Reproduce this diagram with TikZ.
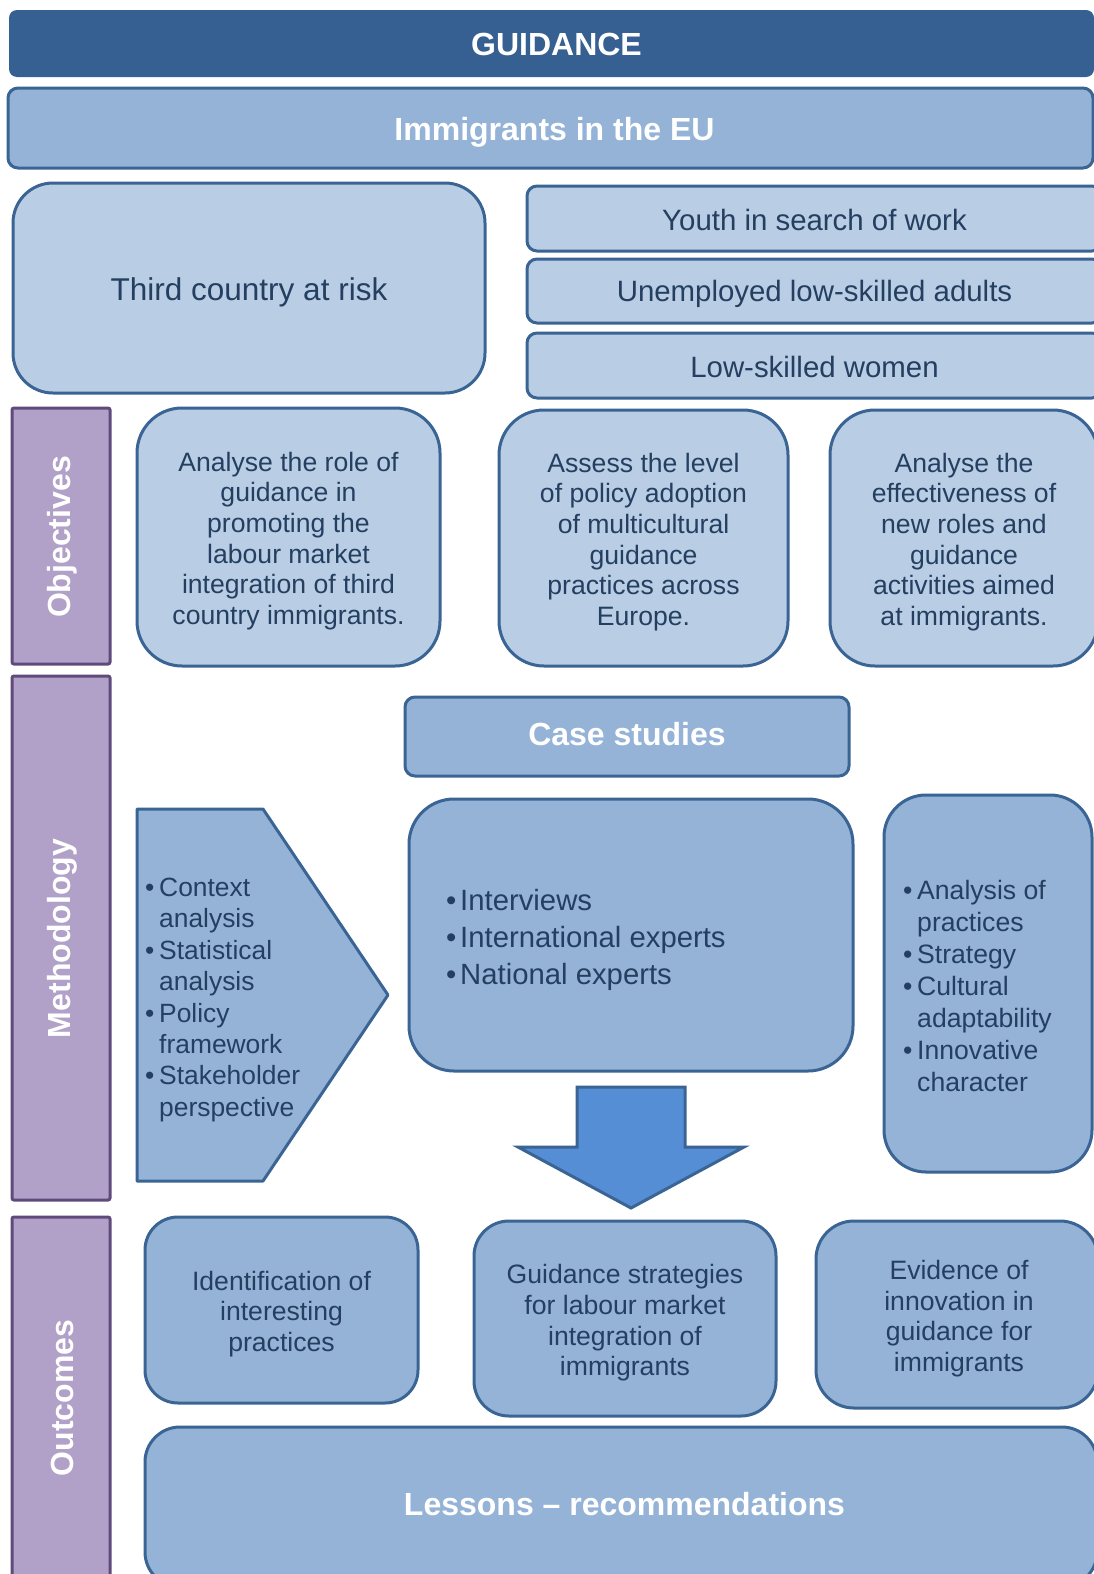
\documentclass[tikz,border=0pt]{standalone}
\usepackage{fontspec}
\setmainfont{Liberation Sans}
\definecolor{darkbar}{HTML}{366092}
\definecolor{lightfill}{HTML}{B9CDE5}
\definecolor{midfill}{HTML}{95B3D7}
\definecolor{bordc}{HTML}{3A6494}
\definecolor{txtc}{HTML}{243F60}
\definecolor{purfill}{HTML}{B1A0C7}
\definecolor{purbord}{HTML}{604A7B}
\definecolor{arrfill}{HTML}{558ED5}
\newcommand\mybul{\makebox[14pt][l]{•}}
\newcommand\myind{\hspace*{14pt}}
\tikzset{
  bx/.style={draw=bordc, line width=3pt, rounded corners=#1, inner sep=0pt},
  lightbx/.style={bx=#1, fill=lightfill},
  midbx/.style={bx=#1, fill=midfill},
  bodytxt/.style={text=txtc, align=center, inner sep=0pt, font=\fontsize{26.6}{30.6}\selectfont},
  grouptxt/.style={text=txtc, align=center, inner sep=0pt, font=\fontsize{29.4}{34}\selectfont},
  titletxt/.style={text=white, inner sep=0pt, font=\bfseries\fontsize{32}{38}\selectfont},
  sidebar/.style={draw=purbord, line width=3pt, fill=purfill, rounded corners=2pt, inner sep=0pt},
  sidelabel/.style={text=white, font=\bfseries\fontsize{32}{38}\selectfont, rotate=90, inner sep=0pt},
  bullist/.style={text=txtc, align=left, inner sep=0pt, anchor=west},
}
\begin{document}
\begin{tikzpicture}[x=1pt,y=-1pt]
\useasboundingbox (0,0) rectangle (1094,1574);
\clip (0,0) rectangle (1094,1574);
\fill[white] (0,0) rectangle (1094,1574);

% top bars
\node[fill=darkbar, rounded corners=8pt, minimum width=1085pt, minimum height=67pt, inner sep=0pt] (guid) at (551.5,43.5) {};
\node[titletxt] (guidt) at (556.5,44.5) {GUIDANCE};
\node[midbx=10pt, minimum width=1085pt, minimum height=80pt] (immig) at (550.5,128) {};
\node[titletxt] (immigt) at (554.5,132) {Immigrants in the EU};

% target groups
\node[lightbx=40pt, minimum width=472pt, minimum height=210pt] (third) at (249,288) {};
\node[bodytxt, font=\fontsize{31.5}{36}\selectfont] (thirdt) at (249,292) {Third country at risk};
\node[lightbx=10pt, minimum width=575pt, minimum height=65pt] (youth) at (814.5,218.5) {};
\node[grouptxt] (youtht) at (814.5,220) {Youth in search of work};
\node[lightbx=10pt, minimum width=575pt, minimum height=64pt] (unemp) at (814.5,291) {};
\node[grouptxt] (unempt) at (814.5,294) {Unemployed low-skilled adults};
\node[lightbx=10pt, minimum width=575pt, minimum height=65pt] (women) at (814.5,365.5) {};
\node[grouptxt] (woment) at (814.5,367) {Low-skilled women};

% side bars
\node[sidebar, minimum width=98pt, minimum height=256pt] (objbar) at (61,536) {};
\node[sidelabel] (objlab) at (62,537) {Objectives};
\node[sidebar, minimum width=98pt, minimum height=524pt] (metbar) at (61,938) {};
\node[sidelabel] (metlab) at (62,938.5) {Methodology};
\node[sidebar, minimum width=98pt, minimum height=370pt] (outbar) at (61,1402) {};
\node[sidelabel] (outlab) at (62,1398) {Outcomes};

% objectives
\node[lightbx=45pt, minimum width=303pt, minimum height=258pt] (obj1) at (288.5,537) {};
\node[bodytxt] (obj1t) at (288.5,541) {Analyse the role of\\guidance in\\promoting the\\labour market\\integration of third\\country immigrants.};
\node[lightbx=45pt, minimum width=289pt, minimum height=256pt] (obj2) at (643.5,538) {};
\node[bodytxt] (obj2t) at (643.5,542) {Assess the level\\of policy adoption\\of multicultural\\guidance\\practices across\\Europe.};
\node[lightbx=45pt, minimum width=268pt, minimum height=256pt] (obj3) at (964,538) {};
\node[bodytxt] (obj3t) at (964,542) {Analyse the\\effectiveness of\\new roles and\\guidance\\activities aimed\\at immigrants.};

% methodology
\node[midbx=10pt, minimum width=444pt, minimum height=79pt] (case) at (627,736.5) {};
\node[titletxt] (caset) at (627,734.5) {Case studies};
\draw[line width=3pt, draw=bordc, fill=midfill, line join=round] (137,809) -- (263,809) -- (388,995) -- (263,1181) -- (137,1181) -- cycle;
\node[bullist, font=\fontsize{26.4}{31.4}\selectfont] (penttxt) at (145,1000) {\mybul Context\\\myind analysis\\\mybul Statistical\\\myind analysis\\\mybul Policy\\\myind framework\\\mybul Stakeholder\\\myind perspective};
\node[midbx=45pt, minimum width=444pt, minimum height=272pt] (mid) at (631,935) {};
\node[bullist, font=\fontsize{29.3}{36.6}\selectfont] (midtxt) at (446,940) {\mybul Interviews\\\mybul International experts\\\mybul National experts};
\node[midbx=42pt, minimum width=208pt, minimum height=377pt] (right) at (988,983.5) {};
\node[bullist, font=\fontsize{26.6}{31.9}\selectfont] (righttxt) at (903,986) {\mybul Analysis of\\\myind practices\\\mybul Strategy\\\mybul Cultural\\\myind adaptability\\\mybul Innovative\\\myind character};

% arrow
\draw[line width=3pt, draw=bordc, fill=arrfill, line join=miter] (577,1087) -- (685,1087) -- (685,1147) -- (744,1147) -- (631,1208) -- (518,1147) -- (577,1147) -- cycle;

% outcomes
\node[midbx=33pt, minimum width=273pt, minimum height=186pt] (out1) at (281.5,1310) {};
\node[bodytxt] (out1t) at (281.5,1314) {Identification of\\interesting\\practices};
\node[midbx=35pt, minimum width=302pt, minimum height=195pt] (out2) at (625,1318.5) {};
\node[bodytxt] (out2t) at (625,1323) {Guidance strategies\\for labour market\\integration of\\immigrants};
\node[midbx=38pt, minimum width=282pt, minimum height=187pt] (out3) at (957,1314.5) {};
\node[bodytxt] (out3t) at (959,1318.5) {Evidence of\\innovation in\\guidance for\\immigrants};
\node[midbx=35pt, minimum width=952pt, minimum height=160pt] (lessons) at (621,1507) {};
\node[titletxt] (lestxt) at (624.5,1504) {Lessons – recommendations};
\end{tikzpicture}
\end{document}
